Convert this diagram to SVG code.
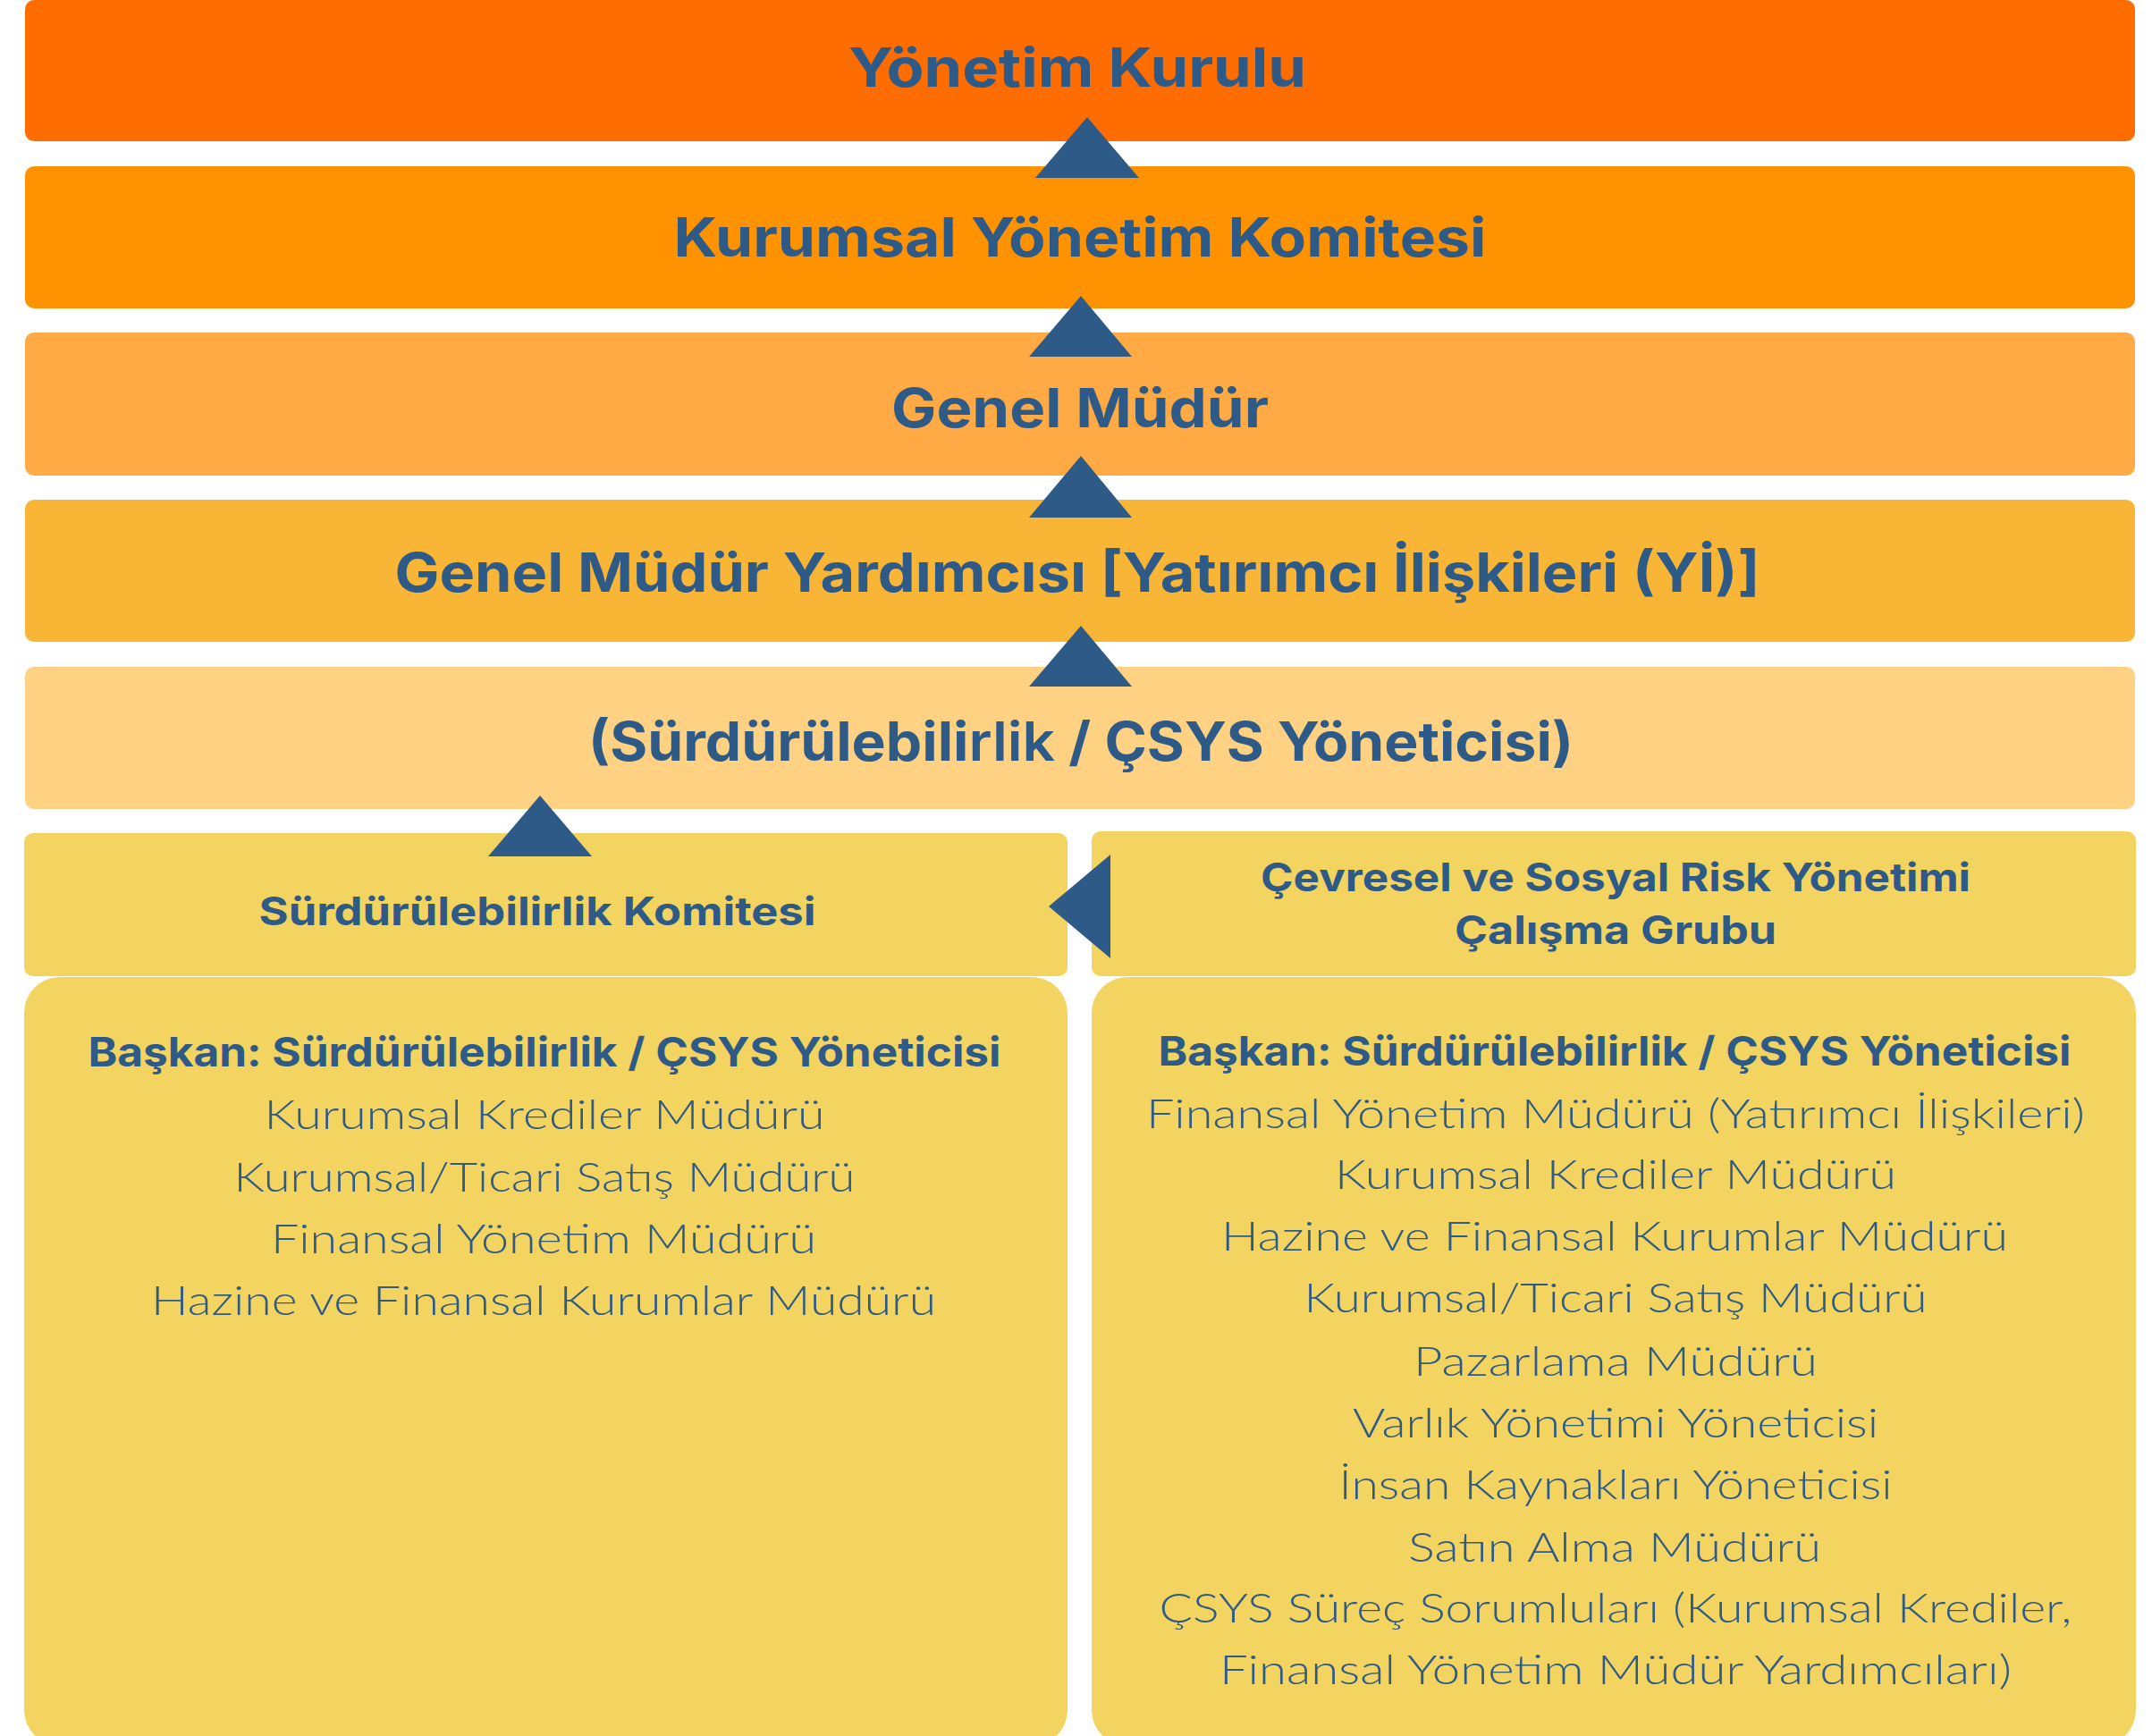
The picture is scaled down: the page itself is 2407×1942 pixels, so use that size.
<svg xmlns="http://www.w3.org/2000/svg" width="2407" height="1942" viewBox="0 0 2407 1942">
<style>
text{font-family:Inter,"Open Sans","Liberation Sans",sans-serif;fill:#2E5A87;text-anchor:middle}
.big{font-size:60px;font-weight:700}
.hd{font-size:44px;font-weight:700}
.b{font-size:45px;font-weight:700}
.l{font-family:Lato,"Open Sans","Liberation Sans",sans-serif;font-size:46px;font-weight:300}
.arr{fill:#2E5A87}
</style>
<rect width="2407" height="1942" fill="#FFFFFF"/>
<g id="yonetim-kurulu">
<rect x="28" y="0" width="2360" height="158" rx="10" fill="#FF6D00"/>
<text class="big" x="1205" y="97" textLength="512" lengthAdjust="spacingAndGlyphs">Yönetim Kurulu</text>
</g>
<g id="kurumsal-yonetim-komitesi">
<rect x="28" y="186" width="2360" height="159" rx="10" fill="#FF9200"/>
<text class="big" x="1208" y="287" textLength="909" lengthAdjust="spacingAndGlyphs">Kurumsal Yönetim Komitesi</text>
</g>
<g id="genel-mudur">
<rect x="28" y="372" width="2360" height="160" rx="10" fill="#FFAA44"/>
<text class="big" x="1208" y="478" textLength="422" lengthAdjust="spacingAndGlyphs">Genel Müdür</text>
</g>
<g id="gmy">
<rect x="28" y="559" width="2360" height="159" rx="10" fill="#F9B536"/>
<text class="big" x="1205" y="662" textLength="1527" lengthAdjust="spacingAndGlyphs">Genel Müdür Yardımcısı [Yatırımcı İlişkileri (Yİ)]</text>
</g>
<g id="csys-yoneticisi">
<rect x="28" y="746" width="2360" height="159" rx="10" fill="#FFD283"/>
<text class="big" x="1209" y="851" textLength="1102" lengthAdjust="spacingAndGlyphs">(Sürdürülebili<tspan font-weight="600">rlik</tspan> / ÇSYS Yöneticisi)</text>
</g>
<g id="surdurulebilirlik-komitesi">
<rect x="27" y="932" width="1167" height="160" rx="10" fill="#F3D460"/>
<text class="hd" x="601" y="1035" textLength="623" lengthAdjust="spacingAndGlyphs">Sürdürülebilirlik Komitesi</text>
<rect x="27" y="1093" width="1167" height="860" rx="40" fill="#F3D460"/>
<text class="b" x="609" y="1193" textLength="1021" lengthAdjust="spacingAndGlyphs">Başkan: Sürdürülebilirlik / ÇSYS Yöneticisi</text>
<text class="l" x="609" y="1263" textLength="627" lengthAdjust="spacingAndGlyphs">Kurumsal Krediler Müdürü</text>
<text class="l" x="609" y="1333" textLength="695" lengthAdjust="spacingAndGlyphs">Kurumsal/Ticari Satış Müdürü</text>
<text class="l" x="608" y="1402" textLength="610" lengthAdjust="spacingAndGlyphs">Finansal Yönetim Müdürü</text>
<text class="l" x="608" y="1471" textLength="878" lengthAdjust="spacingAndGlyphs">Hazine ve Finansal Kurumlar Müdürü</text>
</g>
<g id="csrm-calisma-grubu">
<rect x="1221" y="930" width="1168" height="162" rx="10" fill="#F3D460"/>
<text class="hd" x="1807" y="997" textLength="794" lengthAdjust="spacingAndGlyphs">Çevresel ve Sosyal Risk Yönetimi</text>
<text class="hd" x="1807" y="1056" textLength="360" lengthAdjust="spacingAndGlyphs">Çalışma Grubu</text>
<rect x="1221" y="1093" width="1168" height="860" rx="40" fill="#F3D460"/>
<text class="b" x="1806" y="1192" textLength="1021" lengthAdjust="spacingAndGlyphs">Başkan: Sürdürülebilirlik / ÇSYS Yöneticisi</text>
<text class="l" x="1807" y="1262" textLength="1050" lengthAdjust="spacingAndGlyphs">Finansal Yönetim Müdürü (Yatırımcı İlişkileri)</text>
<text class="l" x="1807" y="1330" textLength="628" lengthAdjust="spacingAndGlyphs">Kurumsal Krediler Müdürü</text>
<text class="l" x="1806" y="1399" textLength="880" lengthAdjust="spacingAndGlyphs">Hazine ve Finansal Kurumlar Müdürü</text>
<text class="l" x="1807" y="1468" textLength="697" lengthAdjust="spacingAndGlyphs">Kurumsal/Ticari Satış Müdürü</text>
<text class="l" x="1807" y="1539" textLength="452" lengthAdjust="spacingAndGlyphs">Pazarlama Müdürü</text>
<text class="l" x="1807" y="1608" textLength="588" lengthAdjust="spacingAndGlyphs">Varlık Yönetimi Yöneticisi</text>
<text class="l" x="1807" y="1677" textLength="619" lengthAdjust="spacingAndGlyphs">İnsan Kaynakları Yöneticisi</text>
<text class="l" x="1806" y="1747" textLength="462" lengthAdjust="spacingAndGlyphs">Satın Alma Müdürü</text>
<text class="l" x="1807" y="1815" textLength="1021" lengthAdjust="spacingAndGlyphs">ÇSYS Süreç Sorumluları (Kurumsal Krediler,</text>
<text class="l" x="1807" y="1884" textLength="886" lengthAdjust="spacingAndGlyphs">Finansal Yönetim Müdür Yardımcıları)</text>
</g>
<g id="connectors">
<polygon class="arr" points="1216,131 1274,199 1158,199"/>
<polygon class="arr" points="1209,331 1266,399 1151,399"/>
<polygon class="arr" points="1209,510 1266,579 1151,579"/>
<polygon class="arr" points="1209,700 1266,768 1151,768"/>
<polygon class="arr" points="604,890 662,958 546,958"/>
<polygon class="arr" points="1173,1014 1242,956 1242,1072"/>
</g>
</svg>
